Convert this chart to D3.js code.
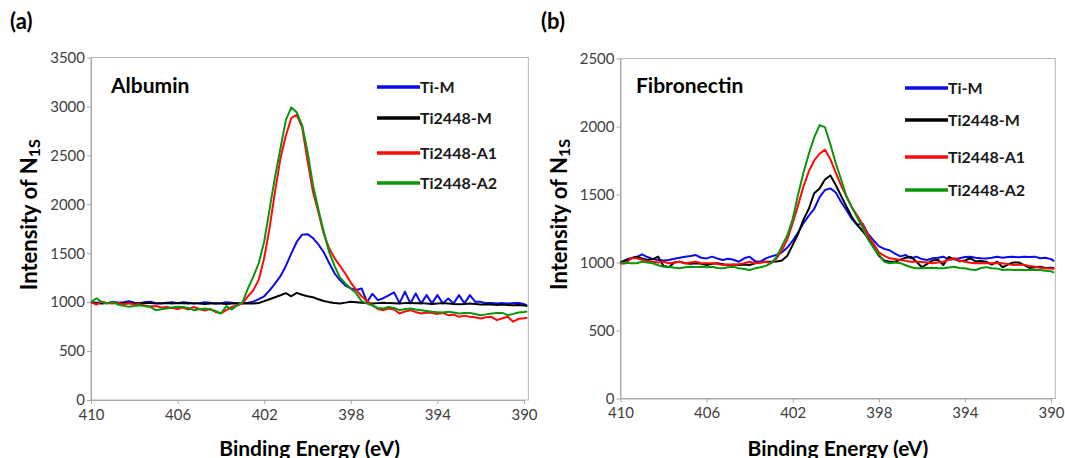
<!DOCTYPE html>
<html>
<head>
<meta charset="utf-8">
<script src="https://cdn.jsdelivr.net/npm/d3@7/dist/d3.min.js"></script>
<style>
  body { margin: 0; background: #fff; }
  text { font-family: Lato, 'Open Sans', sans-serif; }
</style>
</head>
<body>
<svg id="svg" width="1065" height="458"></svg>
<script>
(function() {

    // binding energy (eV), shared by every curve
    const energy = [410, 409.75, 409.5, 409.25, 409, 408.75, 408.5, 408.25, 408, 407.75, 407.5, 407.25, 407, 406.75, 406.5, 406.25,
        406, 405.75, 405.5, 405.25, 405, 404.75, 404.5, 404.25, 404, 403.75, 403.5, 403.25, 403, 402.75, 402.5, 402.25,
        402, 401.75, 401.5, 401.25, 401, 400.75, 400.5, 400.25, 400, 399.75, 399.5, 399.25, 399, 398.75, 398.5, 398.25,
        398, 397.75, 397.5, 397.25, 397, 396.75, 396.5, 396.25, 396, 395.75, 395.5, 395.25, 395, 394.75, 394.5, 394.25,
        394, 393.75, 393.5, 393.25, 393, 392.75, 392.5, 392.25, 392, 391.75, 391.5, 391.25, 391, 390.75, 390.5, 390.25,
        390, 389.85]

    const seriesNames = ['Ti-M', 'Ti2448-M', 'Ti2448-A1', 'Ti2448-A2']
    const xTicks = [410, 406, 402, 398, 394, 390]
    const albuminTicks = [0, 500, 1000, 1500, 2000, 2500, 3000, 3500]
    const fibronectinTicks = [0, 500, 1000, 1500, 2000, 2500]

    // (a) albumin
    const albTiM = [1000, 995, 1000, 990, 1005, 995, 1000, 1010, 995, 990, 1000, 1005, 990, 985, 995, 1000, 990, 1000, 995, 985,
        990, 1000, 995, 985, 990, 1000, 995, 985, 990, 995,
        1005, 1030, 1060, 1120, 1190, 1265, 1370, 1495, 1615, 1690, 1695, 1655, 1590, 1510, 1400, 1295, 1226, 1170, 1140, 1125,
        1140, 1000, 1085, 1020, 1040, 1070, 1100, 990, 1106, 987, 1089, 987, 1072, 987, 1072, 987, 1038, 987, 1072, 987,
        1072, 1003, 1003, 990, 992, 987, 990, 985, 990, 992, 980, 965]
    const albTi2448M = [1000, 990, 985, 990, 995, 992, 988, 990, 985, 990, 995, 990, 985, 988, 990, 985, 990, 988, 985, 990,
        985, 980, 985, 988, 985, 980, 985, 988,
        985, 988, 985, 992, 1010, 1030, 1050, 1070, 1092, 1060, 1095, 1075, 1060, 1050, 1030, 1012, 1000, 992, 987, 995, 1005, 1000, 995,
        990, 985, 990, 995, 990, 988, 985, 990, 992, 988, 990, 985, 980, 985, 990, 985, 980, 978, 980, 985,
        980, 975, 978, 975, 970, 975, 970, 968, 970, 965, 960]
    const albTi2448A1 = [1000, 975, 1005, 990, 985, 995, 975, 990, 975, 980, 965, 955, 960, 945, 950, 940, 930, 945, 925, 950,
        930, 915, 930, 900, 885, 918, 950, 965,
        990, 1060, 1123, 1230, 1450, 1760, 2130, 2470, 2700, 2880, 2915, 2790, 2450, 2130, 1920, 1700, 1550, 1450, 1370, 1290, 1200, 1125, 1060, 1010,
        970, 930, 918, 935, 925, 884, 905, 918, 900, 884, 895, 888, 880, 890, 867, 872, 850, 862, 850, 845,
        833, 845, 850, 816, 835, 850, 800, 830, 835, 840]
    const albTi2448A2 = [1000, 1040, 1000, 985, 1003, 975, 962, 952, 960, 969, 958, 950, 918, 928, 935, 945, 952, 950, 940, 918,
        928, 935, 925, 910, 884, 960, 925, 969,
        1000, 1140, 1260, 1400, 1620, 1950, 2280, 2570, 2860, 2990, 2940, 2810, 2540, 2200, 1950, 1720, 1510, 1370, 1250, 1190, 1140, 1090, 1010, 985,
        965, 940, 935, 950, 940, 918, 930, 935, 925, 918, 910, 901, 898, 895, 901, 895, 884, 888, 890, 878,
        867, 875, 884, 888, 890, 867, 880, 895, 900, 905]

    // (b) fibronectin
    const fibTiM = [1000, 1020, 1031, 1040, 1060, 1040, 1025, 1018, 1015, 1018, 1028, 1035, 1043, 1048, 1055, 1035, 1030, 1043, 1030, 1018,
        1028, 1020, 1006, 1031, 1043, 1010, 1006, 1030,
        1045, 1055, 1075, 1110, 1160, 1220, 1290, 1345, 1395, 1480, 1533, 1545, 1515, 1445, 1385, 1320, 1278, 1285, 1210, 1165, 1120, 1100, 1090,
        1065, 1045, 1055, 1031, 1043, 1025, 1018, 1031, 1035, 1043, 1020, 1025, 1031, 1040, 1043, 1035, 1031, 1030, 1035, 1043,
        1035, 1040, 1043, 1038, 1043, 1040, 1043, 1031, 1035, 1025, 1010]
    const fibTi2448M = [1000, 1015, 1031, 1043, 1030, 1018, 1025, 1043, 975, 965, 1000, 1006, 994, 990, 994, 990, 982, 990, 994, 988,
        982, 985, 982, 985, 982, 994, 1000, 1006,
        1005, 1008, 1015, 1050, 1130, 1210, 1315, 1395, 1510, 1545, 1610, 1640, 1570, 1490, 1410, 1335, 1275, 1230, 1180, 1115, 1050, 1015, 1006,
        1006, 1020, 1035, 1043, 1006, 965, 990, 1015, 1020, 982, 1040, 1025, 1010, 1015, 1031, 1008, 1012, 1005, 985, 1006,
        965, 985, 1000, 1000, 980, 960, 965, 968, 960, 962, 958]
    const fibTi2448A1 = [990, 995, 1031, 1031, 1020, 1010, 1006, 1000, 1006, 994, 1000, 1006, 994, 1000, 1006, 995, 994, 994, 990, 982,
        985, 982, 988, 994, 1006, 994, 1000, 1006,
        995, 1030, 1090, 1170, 1290, 1420, 1560, 1670, 1750, 1800, 1830, 1760, 1660, 1565, 1485, 1405, 1345, 1280, 1200, 1140, 1075, 1050, 1031,
        1025, 1018, 1012, 1006, 1006, 1004, 1000, 994, 1000, 1006, 1020, 1031, 1015, 1006, 998, 994, 996, 994, 994, 996,
        994, 988, 982, 984, 982, 975, 969, 962, 957, 955, 952]
    const fibTi2448A2 = [1000, 998, 994, 994, 1006, 1000, 994, 980, 969, 969, 962, 957, 965, 969, 966, 969, 965, 969, 960, 957,
        965, 969, 957, 952, 945, 957, 965, 975,
        995, 1040, 1120, 1200, 1320, 1500, 1660, 1800, 1920, 2010, 1995, 1870, 1730, 1610, 1485, 1405, 1330, 1255, 1170, 1110, 1060, 1006, 994,
        1000, 995, 980, 965, 957, 957, 960, 962, 958, 957, 963, 969, 960, 957, 948, 945, 960, 966, 957, 955,
        945, 948, 945, 946, 945, 944, 946, 945, 940, 935, 925]

    const colors = ['#0a0aee', '#000000', '#ff0a0a', '#0a960a']

    const svg = d3.select('#svg')

    const panels = [
        { label: '(a)', title: 'Albumin', series: [albTiM, albTi2448M, albTi2448A1, albTi2448A2], yTicks: albuminTicks,
          left: 91, right: 524, top: 57.5, bottom: 400, labelX: 10, yTitleX: 37, titleX: 111, legendX: 377, legendY: [87, 118, 153, 183] },
        { label: '(b)', title: 'Fibronectin', series: [fibTiM, fibTi2448M, fibTi2448A1, fibTi2448A2], yTicks: fibronectinTicks,
          left: 620.5, right: 1051, top: 58.5, bottom: 398.5, labelX: 541, yTitleX: 567, titleX: 636, legendX: 905, legendY: [88, 120, 157, 190] }
    ]

    panels.forEach((p) => {
        const x = d3.scaleLinear().domain([410, 390]).range([p.left, p.right])
        const y = d3.scaleLinear().domain([0, d3.max(p.yTicks)]).range([p.bottom, p.top])

        // plot frame
        svg.append('rect')
            .attr('x', x(410))
            .attr('y', p.top)
            .attr('width', x(389.8) - x(410))
            .attr('height', p.bottom - p.top)
            .attr('fill', 'none')
            .attr('stroke', '#b5b5b5')
            .attr('stroke-width', 1)

        // axes
        const xAxis = svg.append('g')
            .attr('transform', `translate(0,${p.bottom})`)
            .call(d3.axisBottom(x).tickValues(xTicks).tickFormat(d3.format('d'))
                .tickSize(4).tickSizeOuter(0).tickPadding(5))
        const yAxis = svg.append('g')
            .attr('transform', `translate(${x(410)},0)`)
            .call(d3.axisLeft(y).tickValues(p.yTicks).tickFormat(d3.format('d'))
                .tickSize(4).tickSizeOuter(0).tickPadding(2))

        ;[xAxis, yAxis].forEach((g) => {
            g.attr('font-family', 'Lato, sans-serif').attr('font-size', 15)
            g.select('.domain').attr('stroke', '#a6a6a6')
            g.selectAll('.tick line').attr('stroke', '#a6a6a6')
            g.selectAll('.tick text').attr('fill', '#404040')
        })

        // curves
        const line = d3.line()
            .x((d, i) => x(energy[i]))
            .y(d => y(d))

        p.series.forEach((s, k) => {
            svg.append('path')
                .datum(s)
                .attr('d', line)
                .attr('fill', 'none')
                .attr('stroke', colors[k])
                .attr('stroke-width', 2)
                .attr('stroke-linejoin', 'round')
        })

        // legend
        seriesNames.forEach((name, k) => {
            svg.append('line')
                .attr('x1', p.legendX)
                .attr('x2', p.legendX + 43)
                .attr('y1', p.legendY[k])
                .attr('y2', p.legendY[k])
                .attr('stroke', colors[k])
                .attr('stroke-width', 3.5)
            svg.append('text')
                .attr('x', p.legendX + 43)
                .attr('y', p.legendY[k])
                .attr('dy', '0.36em')
                .attr('font-size', 16)
                .attr('font-weight', 'bold')
                .attr('fill', '#1a1a1a')
                .text(name)
        })

        // protein name inside the plot
        svg.append('text')
            .attr('x', p.titleX)
            .attr('y', 93)
            .attr('font-size', 21)
            .attr('font-weight', 'bold')
            .text(p.title)

        // panel letter
        svg.append('text')
            .attr('x', p.labelX)
            .attr('y', 29)
            .attr('font-size', 22)
            .attr('font-weight', 'bold')
            .text(p.label)

        // axis titles
        const yTitle = svg.append('text')
            .attr('transform', `translate(${p.yTitleX},${(p.top + p.bottom) / 2 - 14}) rotate(-90)`)
            .attr('text-anchor', 'middle')
            .attr('font-size', 22)
            .attr('font-weight', 'bold')
        yTitle.append('tspan').text('Intensity of N')
        yTitle.append('tspan').attr('font-size', 16).attr('dy', 3).text('1S')

        svg.append('text')
            .attr('x', (x(410) + x(389.8)) / 2)
            .attr('y', 456)
            .attr('text-anchor', 'middle')
            .attr('font-size', 21)
            .attr('font-weight', 'bold')
            .text('Binding Energy (eV)')
    })

})();
</script>
</body>
</html>
